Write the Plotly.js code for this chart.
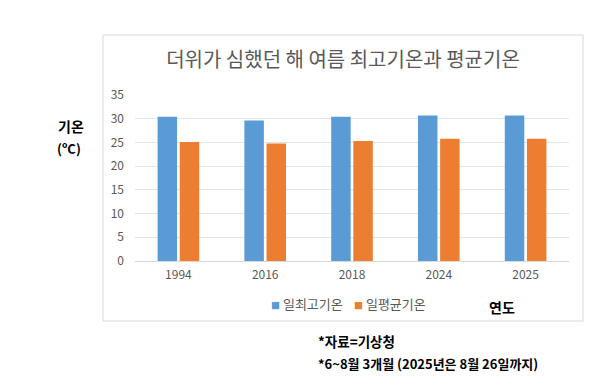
<!DOCTYPE html>
<html>
<head>
<meta charset="utf-8">
<script src="https://cdn.plot.ly/plotly-3.0.1.min.js"></script>
<style>html,body{margin:0;padding:0;background:#fff;}#chart{width:616px;height:385px;}</style>
</head>
<body>
<div id="chart"></div>
<script>
const years = ['1994', '2016', '2018', '2024', '2025'];
const dailyMax = [30.4, 29.6, 30.4, 30.7, 30.7];
const dailyMean = [25.1, 24.8, 25.3, 25.8, 25.8];
const seriesNames = ['일최고기온', '일평균기온'];
const seriesColors = ['#5B9BD5', '#ED7D31'];
const titleText = '더위가 심했던 해 여름 최고기온과 평균기온';
const yTicks = [0, 5, 10, 15, 20, 25, 30, 35];

const W = 616, H = 385;
const L = 135, R = 569, T = 95, B = 261;
const px = x => (x - L) / (R - L);
const py = y => (B - y) / (B - T);
const FONT = '"Noto Sans CJK KR", "Noto Sans", sans-serif';

const traces = [
  {type: 'bar', name: seriesNames[0], x: years, y: dailyMax,
   marker: {color: seriesColors[0], line: {width: 0}}, hoverinfo: 'y'},
  {type: 'bar', name: seriesNames[1], x: years, y: dailyMean,
   marker: {color: seriesColors[1], line: {width: 0}}, hoverinfo: 'y'}
];

const legendAnn = (i, xLeft) => ({
  text: '<span style="color:' + seriesColors[i] + ';font-size:9px">■</span> ' + seriesNames[i],
  xref: 'paper', yref: 'paper', x: px(xLeft), y: py(303), xanchor: 'left', yanchor: 'middle',
  showarrow: false, font: {family: FONT, size: 13, color: '#595959'}
});

const layout = {
  width: W, height: H,
  margin: {l: L, r: W - R, t: T, b: H - B, pad: 0},
  paper_bgcolor: '#ffffff', plot_bgcolor: '#ffffff',
  font: {family: FONT, color: '#595959', size: 12},
  barmode: 'group', bargap: 0.49, bargroupgap: 0.12,
  title: {text: titleText, font: {family: FONT, size: 20, color: '#595959'},
          x: 343 / W, xref: 'container', xanchor: 'center',
          y: 1 - 60 / H, yref: 'container', yanchor: 'middle'},
  xaxis: {type: 'category', showgrid: false, showline: false, zeroline: false,
          ticks: '', tickfont: {size: 12, color: '#595959'}, ticklabelstandoff: 5},
  yaxis: {range: [0, 35], tickvals: yTicks, showgrid: true, gridcolor: '#e3e3e3', gridwidth: 1,
          zeroline: true, zerolinecolor: '#d9d9d9', zerolinewidth: 1, showline: false,
          ticks: '', tickfont: {size: 12, color: '#595959'}, ticklabelstandoff: 10},
  showlegend: false,
  shapes: [
    {type: 'rect', xref: 'paper', yref: 'paper', x0: px(103), x1: px(583), y0: py(321), y1: py(35),
     line: {color: '#d9d9d9', width: 1}, fillcolor: 'rgba(0,0,0,0)', layer: 'below'}
  ],
  annotations: [
    legendAnn(0, 269),
    legendAnn(1, 352),
    {text: '<b>기온</b>', xref: 'paper', yref: 'paper', x: px(56), y: py(126), xanchor: 'left', yanchor: 'middle',
     showarrow: false, font: {family: FONT, size: 14, color: '#000000'}},
    {text: '<b>(ºC)</b>', xref: 'paper', yref: 'paper', x: px(55), y: py(148), xanchor: 'left', yanchor: 'middle',
     showarrow: false, font: {family: FONT, size: 13, color: '#000000'}},
    {text: '<b>연도</b>', xref: 'paper', yref: 'paper', x: px(487), y: py(307), xanchor: 'left', yanchor: 'middle',
     showarrow: false, font: {family: FONT, size: 14, color: '#000000'}},
    {text: '<b>*자료=기상청</b>', xref: 'paper', yref: 'paper', x: px(316), y: py(341), xanchor: 'left', yanchor: 'middle',
     showarrow: false, font: {family: FONT, size: 13.5, color: '#000000'}},
    {text: '<b>*6~8월 3개월 (2025년은 8월 26일까지)</b>', xref: 'paper', yref: 'paper', x: px(316), y: py(363), xanchor: 'left', yanchor: 'middle',
     showarrow: false, font: {family: FONT, size: 13, color: '#000000'}}
  ]
};

Plotly.newPlot('chart', traces, layout, {displayModeBar: false, staticPlot: true});
</script>
</body>
</html>
